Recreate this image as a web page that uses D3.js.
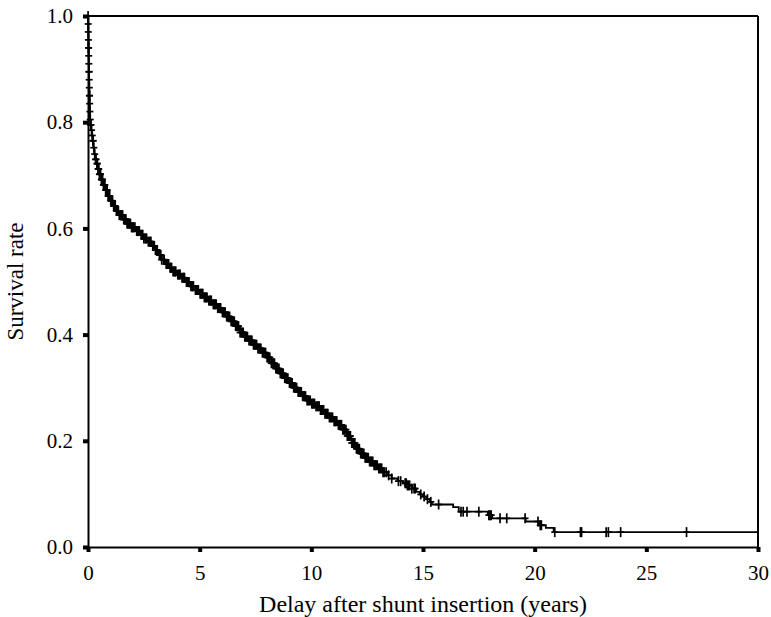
<!DOCTYPE html>
<html>
<head>
<meta charset="utf-8">
<script src="https://cdn.jsdelivr.net/npm/d3@7"></script>
<style>
  body { margin: 0; background: #fff; }
  svg text { font-family: "Liberation Serif", "Times New Roman", serif; fill: #000; }
</style>
</head>
<body>
<svg id="chart" width="771" height="617"></svg>
<script>
// Kaplan-Meier steps: time of event (years) and survival after it
var eventTimes = [0, 0.005, 0.01, 0.015, 0.02, 0.03, 0.035, 0.04, 0.05, 0.055, 0.06, 0.07, 0.08, 0.09,
  0.11, 0.14, 0.17, 0.20, 0.24, 0.28, 0.32, 0.37, 0.43, 0.50, 0.58, 0.67, 0.77, 0.88,
  1.00, 1.12, 1.25, 1.40, 1.56, 1.74, 1.94, 2.12, 2.32, 2.50, 2.69, 2.85, 3.00, 3.15,
  3.30, 3.45, 3.62, 3.80, 4.00, 4.18, 4.38, 4.58, 4.80, 5.00, 5.20, 5.40, 5.60, 5.80,
  6.00, 6.20, 6.40, 6.60, 6.80, 7.00, 7.20, 7.40, 7.60, 7.80, 8.00, 8.20, 8.40, 8.60,
  8.80, 9.00, 9.20, 9.40, 9.60, 9.80, 10.00, 10.20, 10.40, 10.60, 10.80, 11.00, 11.20,
  11.40, 11.60, 11.80, 12.00, 12.20, 12.40, 12.60, 12.80, 13.00, 13.20, 13.40, 13.60,
  13.85, 14.10, 14.30, 14.50, 14.70, 14.85, 15.00, 15.15, 15.30, 15.40, 16.35, 16.60,
  17.90, 18.10, 19.60, 20.20, 20.50, 20.85];
var survival = [1.000, 0.985, 0.970, 0.955, 0.940, 0.925, 0.910, 0.895, 0.880, 0.865, 0.850, 0.835, 0.820, 0.805,
  0.795, 0.785, 0.775, 0.765, 0.752, 0.740, 0.730, 0.722, 0.712, 0.702, 0.692, 0.682, 0.672, 0.661,
  0.652, 0.642, 0.633, 0.625, 0.617, 0.609, 0.602, 0.595, 0.588, 0.581, 0.575, 0.567, 0.559, 0.550,
  0.541, 0.533, 0.526, 0.519, 0.513, 0.507, 0.499, 0.491, 0.484, 0.477, 0.470, 0.464, 0.457, 0.450,
  0.442, 0.434, 0.425, 0.416, 0.404, 0.396, 0.389, 0.381, 0.374, 0.366, 0.357, 0.346, 0.336, 0.327,
  0.318, 0.309, 0.300, 0.292, 0.284, 0.276, 0.270, 0.265, 0.258, 0.251, 0.244, 0.237, 0.230,
  0.221, 0.209, 0.196, 0.185, 0.176, 0.168, 0.161, 0.154, 0.148, 0.141, 0.135, 0.129,
  0.124, 0.120, 0.116, 0.110, 0.104, 0.099, 0.095, 0.090, 0.085, 0.080, 0.075, 0.0665,
  0.060, 0.054, 0.048, 0.041, 0.036, 0.028];

// censored observations (years)
var censorTimes = [0.004, 0.008, 0.012, 0.018, 0.022, 0.027, 0.033, 0.038, 0.044, 0.048, 0.053, 0.058,
  0.064, 0.068, 0.075, 0.085, 0.10, 0.12, 0.13, 0.16, 0.19, 0.22, 0.23, 0.26, 0.30, 0.34, 0.36,
  0.40, 0.42, 0.45, 0.47, 0.48, 0.51, 0.53, 0.55, 0.56, 0.60, 0.62, 0.64, 0.65, 0.69, 0.72, 0.74,
  0.75, 0.79, 0.82, 0.84, 0.86, 0.90, 0.93, 0.95, 0.97, 1.02, 1.05, 1.08, 1.10, 1.15, 1.18, 1.20,
  1.22, 1.27, 1.30, 1.33, 1.36, 1.40, 1.45, 1.48, 1.50, 1.55, 1.60, 1.63, 1.66, 1.70, 1.75, 1.78,
  1.82, 1.85, 1.90, 1.95, 1.98, 2.02, 2.05, 2.10, 2.18, 2.21, 2.25, 2.30, 2.38, 2.41, 2.45, 2.50,
  2.56, 2.61, 2.62, 2.70, 2.75, 2.80, 2.81, 2.90, 2.92, 2.97, 3.02, 3.08, 3.10, 3.20, 3.21, 3.26,
  3.30, 3.38, 3.41, 3.50, 3.56, 3.61, 3.68, 3.70, 3.74, 3.81, 3.86, 3.90, 3.93, 4.02, 4.06, 4.10,
  4.12, 4.21, 4.25, 4.30, 4.32, 4.41, 4.45, 4.50, 4.52, 4.61, 4.65, 4.70, 4.72, 4.81, 4.86, 4.90,
  4.94, 5.02, 5.06, 5.10, 5.14, 5.21, 5.26, 5.30, 5.33, 5.41, 5.46, 5.50, 5.52, 5.61, 5.66, 5.70,
  5.74, 5.81, 5.86, 5.90, 5.94, 6.02, 6.06, 6.10, 6.14, 6.21, 6.26, 6.30, 6.34, 6.41, 6.46, 6.50,
  6.55, 6.61, 6.66, 6.70, 6.74, 6.81, 6.86, 6.90, 6.95, 7.02, 7.06, 7.10, 7.14, 7.21, 7.26, 7.30,
  7.34, 7.41, 7.46, 7.50, 7.55, 7.61, 7.66, 7.70, 7.74, 7.81, 7.86, 7.90, 7.95, 8.02, 8.06, 8.10,
  8.14, 8.21, 8.27, 8.30, 8.35, 8.41, 8.46, 8.50, 8.55, 8.61, 8.66, 8.70, 8.74, 8.81, 8.86, 8.90,
  8.95, 9.02, 9.06, 9.10, 9.14, 9.21, 9.26, 9.30, 9.34, 9.41, 9.46, 9.50, 9.55, 9.61, 9.66, 9.70,
  9.74, 9.81, 9.86, 9.90, 9.95, 10.02, 10.06, 10.10, 10.14, 10.21, 10.26, 10.30, 10.35, 10.41,
  10.46, 10.50, 10.55, 10.61, 10.66, 10.70, 10.74, 10.81, 10.86, 10.90, 10.95, 11.02, 11.06,
  11.10, 11.14, 11.21, 11.26, 11.30, 11.35, 11.41, 11.46, 11.50, 11.55, 11.61, 11.66, 11.70,
  11.75, 11.81, 11.86, 11.90, 11.95, 12.02, 12.06, 12.10, 12.15, 12.21, 12.26, 12.30, 12.35,
  12.41, 12.46, 12.50, 12.55, 12.61, 12.66, 12.70, 12.75, 12.81, 12.86, 12.90, 12.95, 13.02,
  13.06, 13.10, 13.15, 13.21, 13.26, 13.35, 13.46, 13.6, 13.9, 14.0, 14.2, 14.25, 14.3, 14.35,
  14.4, 14.5, 14.6, 14.65, 14.9, 15.05, 15.2, 15.35, 15.7, 16.7, 16.8, 16.97, 17.5, 17.95, 18.0,
  18.05, 18.45, 18.75, 19.57, 20.15, 20.25, 20.3, 20.9, 22.05, 22.1, 23.2, 23.3, 23.85, 26.8];

var xTicks = [0, 5, 10, 15, 20, 25, 30];
var yTicks = [0, 0.2, 0.4, 0.6, 0.8, 1.0];

var svg = d3.select('#chart'),
  margin = {top: 16, right: 13, bottom: 70, left: 88},
  width = +svg.attr('width') - margin.left - margin.right,
  height = +svg.attr('height') - margin.top - margin.bottom,
  g = svg.append('g').attr('transform', 'translate(' + margin.left + ',' + margin.top + ')');

var x = d3.scaleLinear().domain([0, 30]).range([0, width]);
var y = d3.scaleLinear().domain([0, 1]).range([height, 0]);

var steps = eventTimes.map(function(t, i) { return {t: t, s: survival[i]}; });
// curve carries on to the end of the time axis
steps.push({t: x.domain()[1], s: survival[survival.length - 1]});

var bis = d3.bisector(function(d) { return d.t; }).right;
var survAt = function(t) { return steps[Math.max(0, bis(steps, t) - 1)].s; };

// frame
g.append('line').attr('x1', 0).attr('x2', width).attr('y1', 0).attr('y2', 0)
  .attr('stroke', '#000').attr('stroke-width', 2);
g.append('line').attr('x1', width).attr('x2', width).attr('y1', 0).attr('y2', height)
  .attr('stroke', '#000').attr('stroke-width', 2);

var xAxis = g.append('g')
  .attr('transform', 'translate(0,' + height + ')')
  .call(d3.axisBottom(x).tickValues(xTicks).tickFormat(d3.format('d')).tickSizeInner(5).tickSizeOuter(0).tickPadding(13));
var yAxis = g.append('g')
  .call(d3.axisLeft(y).tickValues(yTicks).tickFormat(d3.format('.1f')).tickSizeInner(5).tickSizeOuter(0).tickPadding(10));

[xAxis, yAxis].forEach(function(a) {
  a.select('.domain').attr('stroke-width', 2);
  a.selectAll('.tick line').attr('stroke-width', 4);
  a.selectAll('.tick text').attr('font-size', 21);
});

// KM step line
g.append('path')
  .datum(steps)
  .attr('fill', 'none')
  .attr('stroke', '#000')
  .attr('stroke-width', 1.8)
  .attr('d', d3.line().curve(d3.curveStepAfter)
    .x(function(d) { return x(d.t); })
    .y(function(d) { return y(d.s); }));

// censor marks as small plus signs
var cens = g.append('g').attr('stroke', '#000').attr('stroke-width', 1.7)
  .selectAll('g').data(censorTimes).enter().append('g')
  .attr('transform', function(d) { return 'translate(' + x(d) + ',' + y(survAt(d)) + ')'; });
cens.append('line').attr('x1', 0).attr('x2', 0).attr('y1', -5).attr('y2', 5);
cens.append('line').attr('x1', -3.5).attr('x2', 3.5).attr('y1', 0).attr('y2', 0);

// axis titles
svg.append('text')
  .attr('x', margin.left + width / 2).attr('y', 612)
  .attr('text-anchor', 'middle').attr('font-size', 24)
  .text('Delay after shunt insertion (years)');
svg.append('text')
  .attr('transform', 'translate(23,' + (margin.top + height / 2) + ') rotate(-90)')
  .attr('text-anchor', 'middle').attr('font-size', 23)
  .text('Survival rate');
</script>
</body>
</html>
